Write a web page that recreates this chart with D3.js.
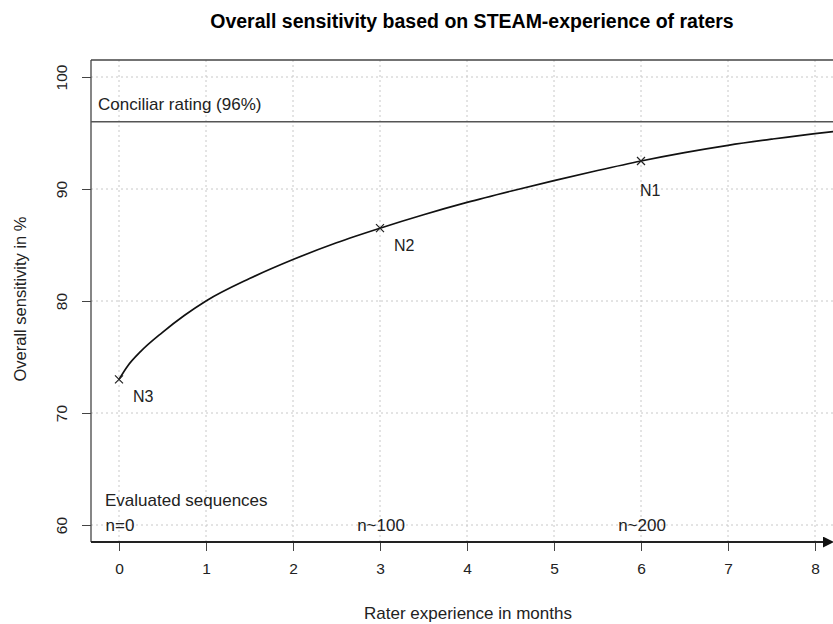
<!DOCTYPE html>
<html>
<head>
<meta charset="utf-8">
<script src="https://cdn.jsdelivr.net/npm/d3@7"></script>
<style>
  body { margin: 0; background: #fff; }
  svg { font-family: "Liberation Sans", Arial, sans-serif; display: block; }
</style>
</head>
<body>
<script>
// values
var months = [0, 0.1, 0.25, 0.5, 0.75, 1, 1.5, 2, 2.5, 3, 3.5, 4, 4.5, 5, 5.5, 6, 6.5, 7, 7.5, 8, 8.3];
var sensitivity = [73, 74.2, 75.5, 77.2, 78.7, 80.0, 82.0, 83.7, 85.2, 86.5, 87.7, 88.8, 89.8, 90.75, 91.65, 92.5, 93.25, 93.9, 94.45, 94.95, 95.2];

var raterMonths = [0, 3, 6];
var raterValues = [73, 86.5, 92.5];
var raterNames = ["N3", "N2", "N1"];

var seqMonths = [0, 3, 6];
var seqLabels = ["n=0", "n~100", "n~200"];

var conciliar = 96;
var xTicks = [0, 1, 2, 3, 4, 5, 6, 7, 8];
var yTicks = [60, 70, 80, 90, 100];

var W = 833, H = 624;
var box = {left: 91, top: 60, bottom: 542};

var svg = d3.select("body").append("svg")
    .attr("width", W)
    .attr("height", H);

var x = d3.scaleLinear().domain([0, 8]).range([119, 815]);
var y = d3.scaleLinear().domain([60, 100]).range([525, 77]);

svg.append("defs").append("marker")
    .attr("id", "arrow")
    .attr("viewBox", "0 0 10 10")
    .attr("refX", 1).attr("refY", 5)
    .attr("markerWidth", 5).attr("markerHeight", 5)
    .attr("markerUnits", "strokeWidth")
    .attr("orient", "auto")
    .append("path")
    .attr("d", "M0,0 L10,5 L0,10 Z")
    .attr("fill", "#111");

// grid
svg.append("g").selectAll("line")
    .data(xTicks).enter().append("line")
    .attr("x1", d => x(d)).attr("x2", d => x(d))
    .attr("y1", box.top).attr("y2", box.bottom)
    .attr("stroke", "#c8c8c8").attr("stroke-dasharray", "2,3");

svg.append("g").selectAll("line")
    .data(yTicks).enter().append("line")
    .attr("x1", box.left).attr("x2", W)
    .attr("y1", d => y(d)).attr("y2", d => y(d))
    .attr("stroke", "#c8c8c8").attr("stroke-dasharray", "2,3");

// box top and left
svg.append("line")
    .attr("x1", box.left).attr("x2", W)
    .attr("y1", box.top).attr("y2", box.top)
    .attr("stroke", "#444").attr("stroke-width", 1.3);
svg.append("line")
    .attr("x1", box.left).attr("x2", box.left)
    .attr("y1", box.top).attr("y2", box.bottom)
    .attr("stroke", "#444").attr("stroke-width", 1.3);

// y axis
var yAxis = d3.axisLeft(y).tickValues(yTicks).tickSize(9).tickSizeOuter(0);
var gy = svg.append("g")
    .attr("transform", "translate(" + box.left + ",0)")
    .call(yAxis);
gy.select(".domain").remove();
gy.selectAll(".tick line").attr("stroke", "#444");
gy.selectAll(".tick text")
    .attr("font-size", 15.5)
    .attr("font-family", "Liberation Sans, Arial, sans-serif")
    .attr("fill", "#222")
    .attr("x", null).attr("dy", null)
    .attr("text-anchor", "middle")
    .attr("transform", "translate(-24,0) rotate(-90)")
    .attr("y", 0);

// x axis
var xAxis = d3.axisBottom(x).tickValues(xTicks).tickSize(9).tickSizeOuter(0);
var gx = svg.append("g")
    .attr("transform", "translate(0," + box.bottom + ")")
    .call(xAxis);
gx.select(".domain").remove();
gx.selectAll(".tick line").attr("stroke", "#444");
gx.selectAll(".tick text")
    .attr("font-size", 15.5)
    .attr("font-family", "Liberation Sans, Arial, sans-serif")
    .attr("fill", "#222")
    .attr("y", 27).attr("dy", "0.32em");

svg.append("line")
    .attr("x1", box.left).attr("x2", 824)
    .attr("y1", box.bottom).attr("y2", box.bottom)
    .attr("stroke", "#222").attr("stroke-width", 2.2)
    .attr("marker-end", "url(#arrow)");

// conciliar rating
svg.append("line")
    .attr("x1", box.left).attr("x2", W)
    .attr("y1", y(conciliar)).attr("y2", y(conciliar))
    .attr("stroke", "#555").attr("stroke-width", 1.4);
svg.append("text")
    .attr("x", 98).attr("y", 110)
    .attr("font-size", 17).attr("fill", "#222")
    .text("Conciliar rating (" + conciliar + "%)");

// curve
var line = d3.line()
    .x((d, i) => x(months[i]))
    .y(d => y(d))
    .curve(d3.curveMonotoneX);

svg.append("path")
    .datum(sensitivity)
    .attr("d", line)
    .attr("fill", "none")
    .attr("stroke", "#111")
    .attr("stroke-width", 1.7);

// rater points
var pts = svg.append("g").selectAll("g")
    .data(raterMonths).enter().append("g")
    .attr("transform", (d, i) => "translate(" + x(d) + "," + y(raterValues[i]) + ")");
pts.append("path")
    .attr("d", "M-4,-4L4,4M-4,4L4,-4")
    .attr("stroke", "#222").attr("stroke-width", 1.2);
pts.append("text")
    .attr("x", 14).attr("y", 23)
    .attr("font-size", 16).attr("fill", "#222")
    .text((d, i) => raterNames[i]);
pts.filter((d, i) => i === 2).select("text").attr("x", -1).attr("y", 35);

// evaluated sequences
svg.append("text")
    .attr("x", 105).attr("y", 506)
    .attr("font-size", 17).attr("fill", "#222")
    .text("Evaluated sequences");
svg.append("g").selectAll("text")
    .data(seqMonths).enter().append("text")
    .attr("x", d => x(d) + 1).attr("y", 531)
    .attr("text-anchor", "middle")
    .attr("font-size", 17).attr("fill", "#222")
    .text((d, i) => seqLabels[i]);

// titles
svg.append("text")
    .attr("x", 472).attr("y", 28)
    .attr("text-anchor", "middle")
    .attr("font-size", 19.5).attr("font-weight", "bold").attr("fill", "#000")
    .text("Overall sensitivity based on STEAM-experience of raters");

svg.append("text")
    .attr("x", 468).attr("y", 619)
    .attr("text-anchor", "middle")
    .attr("font-size", 17).attr("fill", "#222")
    .text("Rater experience in months");

svg.append("text")
    .attr("transform", "translate(26,299) rotate(-90)")
    .attr("text-anchor", "middle")
    .attr("font-size", 16.5).attr("fill", "#222")
    .text("Overall sensitivity in %");
</script>
</body>
</html>
